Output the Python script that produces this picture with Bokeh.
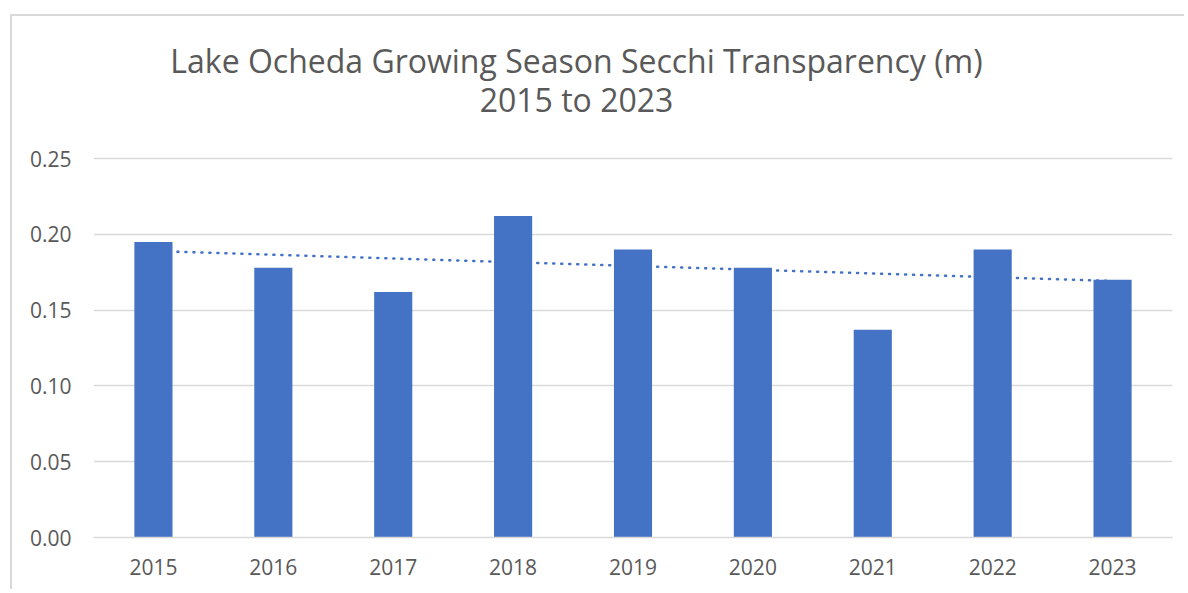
import numpy as np
from bokeh.plotting import figure
from bokeh.models import ColumnDataSource, FixedTicker, NumeralTickFormatter, Range1d
from bokeh.core.properties import value
from bokeh.embed import file_html
from bokeh.resources import INLINE

years = ["2015", "2016", "2017", "2018", "2019", "2020", "2021", "2022", "2023"]
secchi = [0.195, 0.178, 0.162, 0.212, 0.190, 0.178, 0.137, 0.190, 0.170]
y_ticks = [0.00, 0.05, 0.10, 0.15, 0.20, 0.25]
title_lines = ["Lake Ocheda Growing Season Secchi Transparency (m)", "2015 to 2023"]

BLUE = "#4472C4"
GRID = "#d9d9d9"
TXT = "#595959"
FONT = "Open Sans"

# layout in pixels (canvas coordinates)
W, H = 1174, 575
FL, FR, FT, FB = 81, 1160, 4, 521          # frame left/right/top/bottom
PX_PER_UNIT = 1516.0                          # 0.05 per ~75.8 px
ymax = (FB - FT) / PX_PER_UNIT
cat_w = (FR - FL) / len(years)
title_x = (564 - FL) / cat_w                  # title centre, synthetic x
title_y = [(FB - 44) / PX_PER_UNIT, (FB - 83) / PX_PER_UNIT]

# linear trendline (least squares over the bar values)
xi = np.arange(len(years))
slope, intercept = np.polyfit(xi, secchi, 1)
trend = list(slope * xi + intercept)

src = ColumnDataSource(dict(year=years, val=secchi, trend=trend))

p = figure(x_range=years, y_range=Range1d(0, ymax), width=W, height=H,
           output_backend="svg", toolbar_location=None, title=None,
           min_border_left=FL, min_border_right=W - FR, min_border_top=FT,
           min_border_bottom=H - FB)
p.margin = (14, 0, 0, 10)
p.styles = {"border-left": "2px solid #d9d9d9", "border-top": "2px solid #d9d9d9"}

p.line(x="year", y="trend", source=src, line_color=BLUE, line_width=2.6,
       line_dash="1 7", line_cap="round")
p.vbar(x="year", top="val", source=src, width=0.318, fill_color=BLUE, line_color=None)

p.text(x=[title_x, title_x], y=[title_y[0], title_y[1]], text=title_lines,
       text_align="center", text_baseline="alphabetic", text_font=value(FONT),
       text_font_size="32px", text_color=TXT)

p.outline_line_color = None
p.background_fill_color = "white"
p.border_fill_color = "white"

p.xgrid.grid_line_color = None
p.ygrid.grid_line_color = GRID
p.ygrid.grid_line_width = 1.4
p.ygrid.ticker = FixedTicker(ticks=y_ticks)

p.yaxis.ticker = FixedTicker(ticks=y_ticks)
p.yaxis.formatter = NumeralTickFormatter(format="0.00")
p.yaxis.axis_line_color = None
p.yaxis.major_tick_line_color = None
p.yaxis.minor_tick_line_color = None
p.yaxis.major_label_standoff = 16
p.yaxis.major_label_text_font = FONT
p.yaxis.major_label_text_font_size = "21px"
p.yaxis.major_label_text_color = TXT

p.xaxis.axis_line_color = GRID
p.xaxis.axis_line_width = 1.4
p.xaxis.major_tick_line_color = None
p.xaxis.minor_tick_line_color = None
p.xaxis.major_label_standoff = 15
p.xaxis.major_label_text_font = FONT
p.xaxis.major_label_text_font_size = "21px"
p.xaxis.major_label_text_color = TXT

open("out.html", "w").write(file_html(p, INLINE))
